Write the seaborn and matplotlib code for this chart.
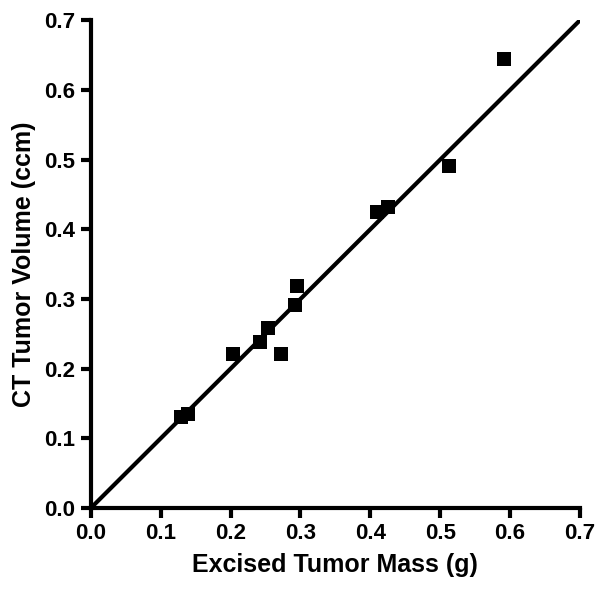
import numpy as np
import pandas as pd
import matplotlib
matplotlib.use('Agg')
import matplotlib.pyplot as plt
import seaborn as sns

# excised mass (g) vs CT volume (ccm)
mass = [0.129, 0.139, 0.203, 0.242, 0.253, 0.272, 0.292, 0.295, 0.409, 0.426, 0.512, 0.591]
volume = [0.131, 0.135, 0.221, 0.238, 0.258, 0.221, 0.291, 0.318, 0.425, 0.432, 0.491, 0.644]

# regression line end points
fit_x = [0.0, 0.7]
fit_y = [0.0, 0.7]

ticks = [0.0, 0.1, 0.2, 0.3, 0.4, 0.5, 0.6, 0.7]

sns.set_style('ticks', {'axes.edgecolor': 'black', 'xtick.color': 'black',
                        'ytick.color': 'black', 'text.color': 'black',
                        'axes.labelcolor': 'black'})
plt.rcParams['font.family'] = ['Liberation Sans', 'DejaVu Sans']
plt.rcParams['font.weight'] = 'bold'

df = pd.DataFrame({'mass': mass, 'volume': volume})
line = pd.DataFrame({'x': fit_x, 'y': fit_y})

fig = plt.figure(figsize=(6.01, 5.95), dpi=100)
ax = fig.add_axes([0.151, 0.146, 0.814, 0.82])

sns.lineplot(data=line, x='x', y='y', color='black', linewidth=3, ax=ax)
sns.scatterplot(data=df, x='mass', y='volume', marker='s', s=115, color='black',
                edgecolor='black', linewidth=0, ax=ax, zorder=3)

ax.set_xlim(0, 0.7)
ax.set_ylim(0, 0.7)
ax.set_xticks(ticks)
ax.set_yticks(ticks)
ax.set_xticklabels([f'{t:.1f}' for t in ticks], fontsize=16, fontweight='heavy')
ax.set_yticklabels([f'{t:.1f}' for t in ticks], fontsize=16, fontweight='heavy')
ax.set_xlabel('Excised Tumor Mass (g)', fontsize=18, fontweight='heavy', labelpad=6)
ax.set_ylabel('CT Tumor Volume (ccm)', fontsize=18, fontweight='heavy', labelpad=6)

sns.despine(ax=ax)
for s in ['left', 'bottom']:
    ax.spines[s].set_linewidth(3)
ax.tick_params(width=3, length=7, direction='out', pad=4, colors='black')

fig.savefig('out.png', dpi=100)
